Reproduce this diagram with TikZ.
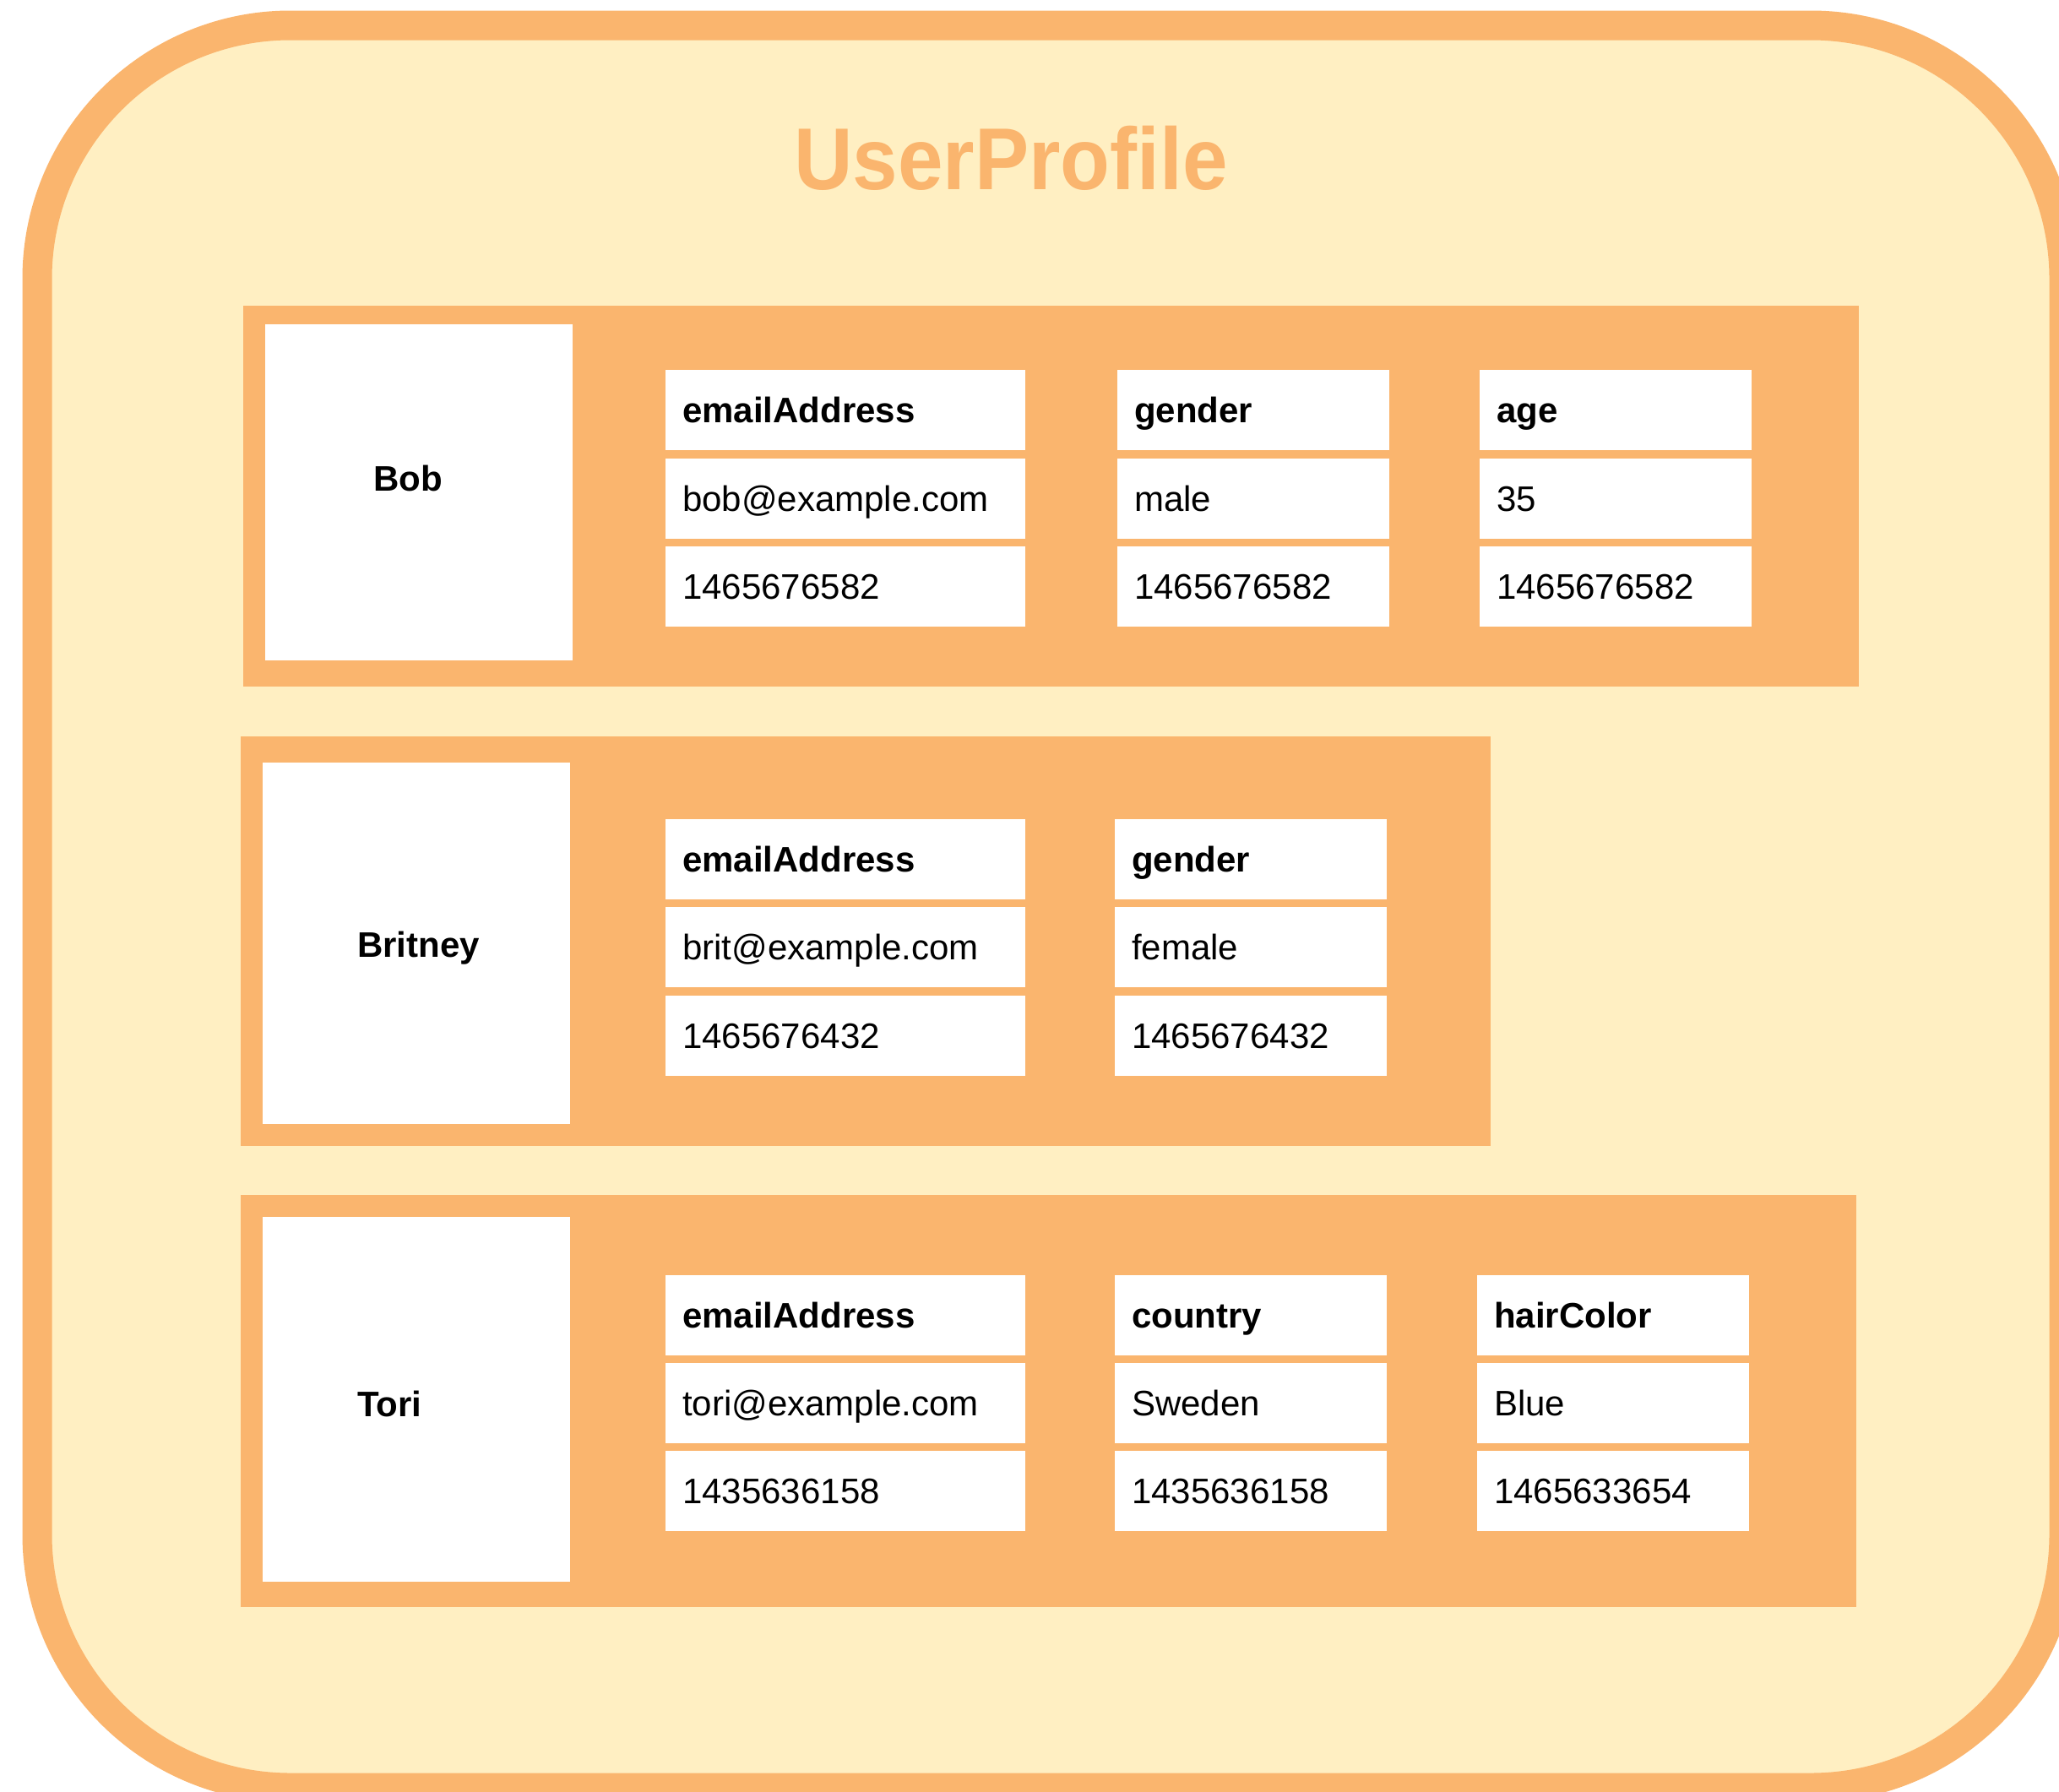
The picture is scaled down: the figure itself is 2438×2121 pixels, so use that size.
\documentclass[tikz,border=0pt]{standalone}
\usepackage{fontspec}
\setmainfont{Liberation Sans}
\definecolor{orng}{HTML}{FAB56E}
\definecolor{cream}{HTML}{FFEFC2}
\begin{document}
\begin{tikzpicture}[x=1pt,y=-1pt,
  band/.style={fill=orng, draw=none, anchor=north west, inner sep=0pt},
  namebox/.style={fill=white, draw=none, anchor=north west, inner sep=0pt},
  namelabel/.style={anchor=west, inner sep=0pt, font=\fontsize{42}{50}\selectfont\bfseries},
  cell/.style={fill=white, draw=none, anchor=north west, inner ysep=0pt, inner xsep=20pt,
    align=left, font=\fontsize{42}{50}\selectfont, minimum height=95pt,
    text height=30pt, text depth=0pt},
  wide/.style={cell, text width=386pt},
  narrow/.style={cell, text width=282pt},
  hdr/.style={font=\fontsize{42}{50}\selectfont\bfseries}
]
\clip (0,0) rectangle (2438,2121);
\useasboundingbox (0,0) rectangle (2438,2121);

% outer container
\draw[line width=35pt, draw=orng, fill=cream, rounded corners=300pt] (44,30) rectangle (2444,2117);
\node[text=orng, font=\fontsize{104}{120}\selectfont\bfseries] (title) at (1197,187) {\scalebox{0.925}[1]{UserProfile}};

% ---------- Bob ----------
\node[band, minimum width=1913pt, minimum height=451pt] (bobband) at (288,362) {};
\node[namebox, minimum width=364pt, minimum height=398pt] (bobbox) at (314,384) {};
\node[namelabel] (bobname) at (442,566) {Bob};
\node[wide, hdr] (b11) at (788,438) {emailAddress};
\node[wide] (b12) at (788,543) {bob@example.com};
\node[wide] (b13) at (788,647) {1465676582};
\node[narrow, hdr] (b21) at (1323,438) {gender};
\node[narrow] (b22) at (1323,543) {male};
\node[narrow] (b23) at (1323,647) {1465676582};
\node[narrow, hdr] (b31) at (1752,438) {age};
\node[narrow] (b32) at (1752,543) {35};
\node[narrow] (b33) at (1752,647) {1465676582};

% ---------- Britney ----------
\node[band, minimum width=1480pt, minimum height=485pt] (britband) at (285,872) {};
\node[namebox, minimum width=364pt, minimum height=428pt] (britbox) at (311,903) {};
\node[namelabel] (britname) at (423,1123) {Britney};
\node[wide, hdr] (r11) at (788,970) {emailAddress};
\node[wide] (r12) at (788,1074) {brit@example.com};
\node[wide] (r13) at (788,1179) {1465676432};
\node[narrow, hdr] (r21) at (1320,970) {gender};
\node[narrow] (r22) at (1320,1074) {female};
\node[narrow] (r23) at (1320,1179) {1465676432};

% ---------- Tori ----------
\node[band, minimum width=1913pt, minimum height=488pt] (toriband) at (285,1415) {};
\node[namebox, minimum width=364pt, minimum height=432pt] (toribox) at (311,1441) {};
\node[namelabel] (toriname) at (423,1662) {Tori};
\node[wide, hdr] (t11) at (788,1510) {emailAddress};
\node[wide] (t12) at (788,1614) {tori@example.com};
\node[wide] (t13) at (788,1718) {1435636158};
\node[narrow, hdr] (t21) at (1320,1510) {country};
\node[narrow] (t22) at (1320,1614) {Sweden};
\node[narrow] (t23) at (1320,1718) {1435636158};
\node[narrow, hdr] (t31) at (1749,1510) {hairColor};
\node[narrow] (t32) at (1749,1614) {Blue};
\node[narrow] (t33) at (1749,1718) {1465633654};
\end{tikzpicture}
\end{document}
